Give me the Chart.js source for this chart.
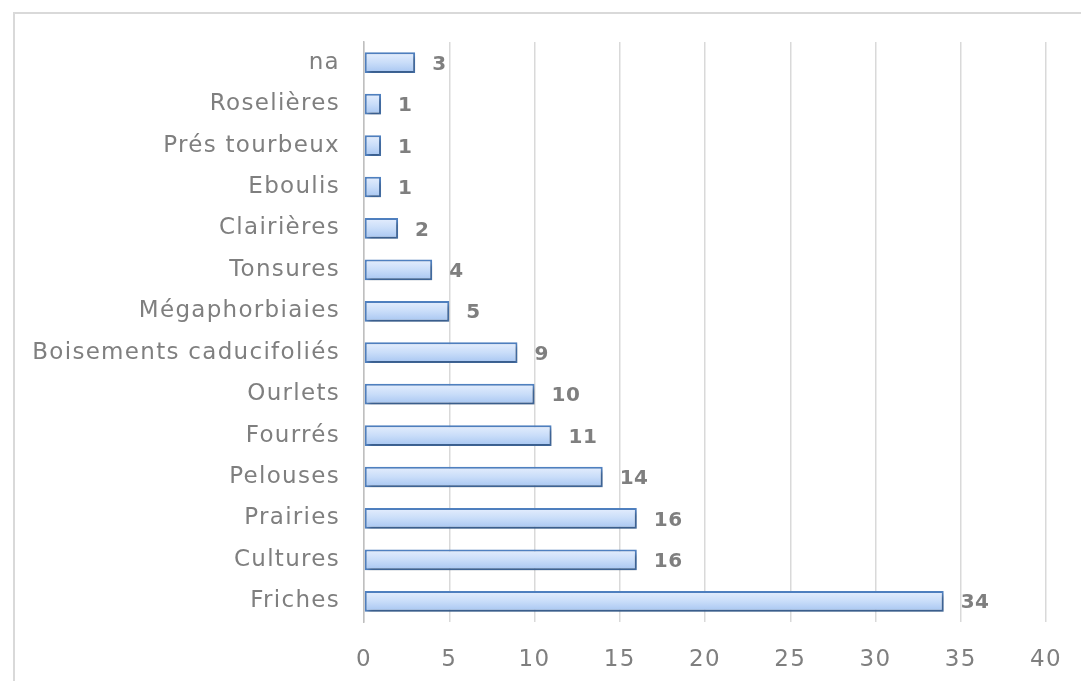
<!DOCTYPE html>
<html>
<head>
<meta charset="utf-8">
<script src="https://cdn.jsdelivr.net/npm/chart.js@4/dist/chart.umd.min.js"></script>
<style>
  html, body { margin: 0; padding: 0; background: #ffffff; }
  #wrap { position: relative; width: 1081px; height: 681px; overflow: hidden; }
  #frame { position: absolute; left: 13px; top: 12px; width: 1100px; height: 700px;
           border: 2px solid #d9d9d9; box-sizing: border-box; }
  canvas { position: absolute; left: 0; top: 0; }
</style>
</head>
<body>
<div id="wrap">
  <div id="frame"></div>
  <canvas id="c" width="1081" height="681"></canvas>
</div>
<script>
// Habitat categories, listed from the top of the chart downwards
const categories = [
  'na', 'Roselières', 'Prés tourbeux', 'Eboulis', 'Clairières', 'Tonsures',
  'Mégaphorbiaies', 'Boisements caducifoliés', 'Ourlets', 'Fourrés',
  'Pelouses', 'Prairies', 'Cultures', 'Friches'
];
const counts = [3, 1, 1, 1, 2, 4, 5, 9, 10, 11, 14, 16, 16, 34];
const xTicks = [0, 5, 10, 15, 20, 25, 30, 35, 40];

const FONT = "'DejaVu Sans', sans-serif";
const TEXT_GREY = '#7f7f7f';

// Wider letter spacing for all canvas text (measured and drawn alike)
const spacing = {
  id: 'spacing',
  beforeLayout(chart) { chart.ctx.letterSpacing = '1.3px'; },
  beforeDraw(chart) { chart.ctx.letterSpacing = '1.3px'; }
};

// Vertical gradient fill + drop shadow for each bar
const barStyle = {
  id: 'barStyle',
  beforeDatasetsDraw(chart) {
    const ctx = chart.ctx;
    chart.getDatasetMeta(0).data.forEach(el => {
      const top = el.y - el.height / 2;
      const bot = el.y + el.height / 2;
      const g = ctx.createLinearGradient(0, top, 0, bot);
      g.addColorStop(0, '#e5eefd');
      g.addColorStop(0.5, '#c9ddf9');
      g.addColorStop(1, '#a6c5f1');
      el.options = Object.assign({}, el.options, { backgroundColor: g });
    });
    ctx.save();
    ctx.shadowColor = 'rgba(0,0,0,0.30)';
    ctx.shadowBlur = 4;
    ctx.shadowOffsetX = 2;
    ctx.shadowOffsetY = 3;
  },
  afterDatasetsDraw(chart) {
    chart.ctx.restore();
  }
};

// Value labels to the right of each bar
const valueLabels = {
  id: 'valueLabels',
  afterDatasetsDraw(chart) {
    const ctx = chart.ctx;
    const ds = chart.data.datasets[0];
    ctx.save();
    ctx.font = "bold 20px " + FONT;
    ctx.letterSpacing = '0.5px';
    ctx.fillStyle = '#7f7f7f';
    ctx.textAlign = 'left';
    ctx.textBaseline = 'middle';
    chart.getDatasetMeta(0).data.forEach((el, i) => {
      ctx.fillText(String(ds.data[i]), el.x + 17, el.y + 2);
    });
    ctx.restore();
  }
};

new Chart(document.getElementById('c'), {
  type: 'bar',
  data: {
    labels: categories,
    datasets: [{
      data: counts,
      borderColor: '#4f80c0',
      borderWidth: 2,
      borderSkipped: false,
      barPercentage: 0.5,
      categoryPercentage: 1.0
    }]
  },
  options: {
    indexAxis: 'y',
    responsive: false,
    animation: false,
    layout: { padding: { left: 0, top: 42, right: 35, bottom: 0 } },
    plugins: { legend: { display: false }, tooltip: { enabled: false } },
    scales: {
      x: {
        min: 0, max: 40,
        afterBuildTicks(scale) { scale.ticks = xTicks.map(v => ({ value: v })); },
        grid: { color: '#d9d9d9', lineWidth: 1.5, drawTicks: false },
        border: { display: false },
        ticks: { color: TEXT_GREY, font: { family: FONT, size: 23 }, padding: 24 },
        afterFit(scale) {
          scale.height = 59;
          scale.paddingLeft = 0;
          scale.paddingRight = 0;
        }
      },
      y: {
        grid: { display: false, drawTicks: false },
        border: { display: true, color: '#bfbfbf', width: 1.5 },
        ticks: { color: TEXT_GREY, font: { family: FONT, size: 23 }, padding: 24 },
        afterFit(scale) { scale.width = 364; }
      }
    }
  },
  plugins: [spacing, barStyle, valueLabels]
});
</script>
</body>
</html>
